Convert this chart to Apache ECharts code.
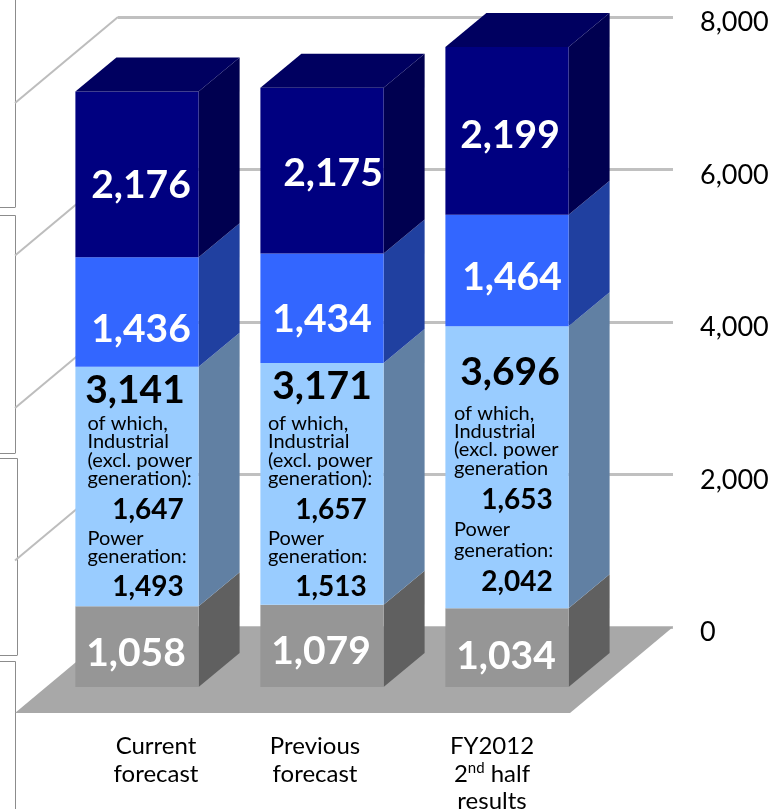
<!DOCTYPE html>
<html>
<head>
<meta charset="utf-8">
<style>html,body{margin:0;padding:0;background:#fff}#c{width:774px;height:809px}</style>
<script src="https://cdn.jsdelivr.net/npm/echarts@6/dist/echarts.min.js"></script>
</head>
<body>
<div id="c"></div>
<script>
// ---- data ----
const categories = ['Current\nforecast', 'Previous\nforecast', 'FY2012\n2{sup|nd} half\nresults'];
const layerGray = [1058, 1079, 1034];
const layerLight = [3141, 3171, 3696];
const layerBlue = [1436, 1434, 1464];
const layerNavy = [2176, 2175, 2199];
const industrial = [1647, 1657, 1653];
const powerGen = [1493, 1513, 2042];
const yTicks = [0, 2000, 4000, 6000, 8000];
const noteIndustrial = [
  ['of which,', 'Industrial', '(excl. power', 'generation):'],
  ['of which,', 'Industrial', '(excl. power', 'generation):'],
  ['of which,', 'Industrial', '(excl. power', 'generation']
];
const notePower = ['Power', 'generation:'];

// ---- layout & style ----
const DEPTH = [41, -34];        // bar depth
const WALL = [-103, 86];        // wall / floor depth
const layers = [
  {values: layerGray, front: '#969696', side: '#606060', text: '#ffffff'},
  {values: layerLight, front: '#99ccff', side: '#6180a3', text: '#000000'},
  {values: layerBlue, front: '#3366ff', side: '#2040a0', text: '#ffffff'},
  {values: layerNavy, front: '#000080', side: '#000050', top: '#000060', text: '#ffffff'}
];
const labelOffset = [
  [[-1, 7], [-1, 6], [-1, 9]],
  [[-2, 24], [0, 23], [3, 46]],      // measured from the segment's top
  [[4, 17], [0, 11], [5, 6.5]],
  [[4, 11], [11, 3], [3, 5]]
];
const noteTop = [56.5, 60.4, 87];
const noteLeft = [-49.5, -54, -53];
const noteValueDx = [11, 9, 10];
const noteRows = [
  [0, 18, 37, 55, 87, 115, 133, 164],
  [0, 18, 37, 55, 87, 115, 133, 164],
  [0, 18, 36, 55, 87, 116, 137, 169]
];
const FONT = 'Lato, "Open Sans", sans-serif';
const fmt = v => v.toLocaleString('en-US');
const cum = c => { let s = 0; return layers.map(l => { const b = s; s += l.values[c]; return [b, s]; }); };

const series = [];
// floor (on the back-wall grid)
series.push({
  type: 'custom', xAxisIndex: 0, yAxisIndex: 0, silent: true, data: [[0, 0]],
  renderItem(p, api) {
    const o = api.coord([0, 0]);
    const y = o[1], l = p.coordSys.x, r = l + p.coordSys.width;
    return {type: 'polygon', shape: {points: [[l, y], [r, y], [r + WALL[0], y + WALL[1]], [l + WALL[0], y + WALL[1]]]}, style: {fill: '#a8a8a8'}};
  }
});
// left wall diagonals
series.push({
  type: 'custom', xAxisIndex: 0, yAxisIndex: 0, silent: true,
  data: yTicks.filter(t => t > 0).map(t => [0, t]),
  renderItem(p, api) {
    const y = api.coord([0, api.value(1)])[1], l = p.coordSys.x;
    return {type: 'line', shape: {x1: l, y1: y, x2: l + WALL[0], y2: y + WALL[1]}, style: {stroke: '#bdbdbd', lineWidth: 2}};
  }
});
// bars
layers.forEach((layer, li) => {
  series.push({
    type: 'custom', name: 'layer' + li, xAxisIndex: 1, yAxisIndex: 1, silent: true,
    data: layer.values.map((v, c) => [c, cum(c)[li][0], cum(c)[li][1]]),
    renderItem(p, api) {
      const c = api.value(0);
      const hw = api.size([1, 0])[0] * 0.666 / 2;
      const a = api.coord([c, api.value(1)]), b = api.coord([c, api.value(2)]);
      const xl = a[0] - hw, xr = a[0] + hw, yb = a[1], yt = b[1];
      const dx = DEPTH[0], dy = DEPTH[1];
      const children = [
        {type: 'polygon', shape: {points: [[xr, yb], [xr + dx, yb + dy], [xr + dx, yt + dy], [xr, yt]]}, style: {fill: layer.side}},
        {type: 'rect', shape: {x: xl, y: yt, width: xr - xl, height: yb - yt}, style: {fill: layer.front}}
      ];
      if (layer.top) children.push({type: 'polygon', shape: {points: [[xl, yt], [xr, yt], [xr + dx, yt + dy], [xl + dx, yt + dy]]}, style: {fill: layer.top}});
      return {type: 'group', children};
    }
  });
});
// value labels
layers.forEach((layer, li) => {
  series.push({
    type: 'custom', xAxisIndex: 1, yAxisIndex: 1, silent: true, z: 5,
    data: layer.values.map((v, c) => [c, li === 1 ? cum(c)[li][1] : (cum(c)[li][0] + cum(c)[li][1]) / 2, v]),
    renderItem(p, api) {
      const c = api.value(0), q = api.coord([c, api.value(1)]), off = labelOffset[li][c];
      return {type: 'text', style: {text: fmt(api.value(2)), x: q[0] + off[0], y: q[1] + off[1], fill: layer.text,
        fontFamily: FONT, fontWeight: 'bold', fontSize: 39, align: 'center', verticalAlign: 'middle'}};
    }
  });
});
// notes inside the light segment
series.push({
  type: 'custom', xAxisIndex: 1, yAxisIndex: 1, silent: true, z: 5,
  data: categories.map((n, c) => [c, cum(c)[1][1]]),
  renderItem(p, api) {
    const c = api.value(0), q = api.coord([c, api.value(1)]);
    const y0 = q[1] + noteTop[c], rows = noteRows[c];
    const txt = (t, x, y, bold, al) => ({type: 'text', style: {text: t, x, y, fill: '#000', fontFamily: FONT,
      fontWeight: bold ? 'bold' : 'normal', fontSize: bold ? 28 : 20, align: al, verticalAlign: 'middle'}});
    const lx = q[0] + noteLeft[c], vx = q[0] + noteValueDx[c];
    const kids = noteIndustrial[c].map((t, i) => txt(t, lx, y0 + rows[i], false, 'left'));
    kids.push(txt(fmt(industrial[c]), vx, y0 + rows[4], true, 'center'));
    kids.push(txt(notePower[0], lx, y0 + rows[5], false, 'left'));
    kids.push(txt(notePower[1], lx, y0 + rows[6], false, 'left'));
    kids.push(txt(fmt(powerGen[c]), vx, y0 + rows[7], true, 'center'));
    return {type: 'group', children: kids};
  }
});

const sideLine = (x1, y1, x2, y2) => ({type: 'line', silent: true, shape: {x1, y1, x2, y2}, style: {stroke: '#8c8c8c', lineWidth: 1}});
const catShift = [[0, 0, 0, 38], [0, 14, 0, 0], [0, 30, 0, 0]];

const option = {
  animation: false,
  backgroundColor: '#fff',
  grid: [
    {left: 118, top: 17, width: 555, height: 610, outerBoundsMode: 'none'},
    {left: 44.5, top: 77, width: 555, height: 610, outerBoundsMode: 'none'}
  ],
  xAxis: [
    {gridIndex: 0, type: 'category', show: false, data: categories},
    {gridIndex: 1, type: 'category', data: categories.map((v, i) => ({value: v, textStyle: {padding: catShift[i]}})),
      axisLine: {show: false}, axisTick: {show: false},
      axisLabel: {margin: 46, interval: 0, color: '#000', fontFamily: FONT, fontSize: 24, lineHeight: 27.5,
        rich: {sup: {fontSize: 15, verticalAlign: 'top', fontFamily: FONT, color: '#000', lineHeight: 27.5, padding: [0, 0, 8, 0]}}}}
  ],
  yAxis: [
    {gridIndex: 0, type: 'value', position: 'right', min: 0, max: 8000, interval: 2000,
      axisLine: {show: false}, axisTick: {show: false},
      splitLine: {show: true, lineStyle: {color: '#c0c0c0', width: 3}},
      axisLabel: {margin: 27, color: '#000', fontFamily: FONT, fontSize: 27, verticalAlign: 'top', lineHeight: 11, formatter: v => fmt(v)}},
    {gridIndex: 1, type: 'value', show: false, min: 0, max: 8000, interval: 2000, splitLine: {show: false}}
  ],
  series,
  graphic: [
    sideLine(15.5, 0, 15.5, 207), sideLine(0, 207.5, 15.5, 207.5),
    sideLine(0, 215.5, 15.5, 215.5), sideLine(15.5, 215.5, 15.5, 453), sideLine(0, 453.5, 15.5, 453.5),
    sideLine(0, 458.5, 17.5, 458.5), sideLine(17.5, 458.5, 17.5, 655), sideLine(0, 655.5, 17.5, 655.5),
    sideLine(0, 661.5, 15.5, 661.5), sideLine(15.5, 661.5, 15.5, 809)
  ]
};
echarts.init(document.getElementById('c'), null, {renderer: 'canvas'}).setOption(option);
</script>
</body>
</html>
